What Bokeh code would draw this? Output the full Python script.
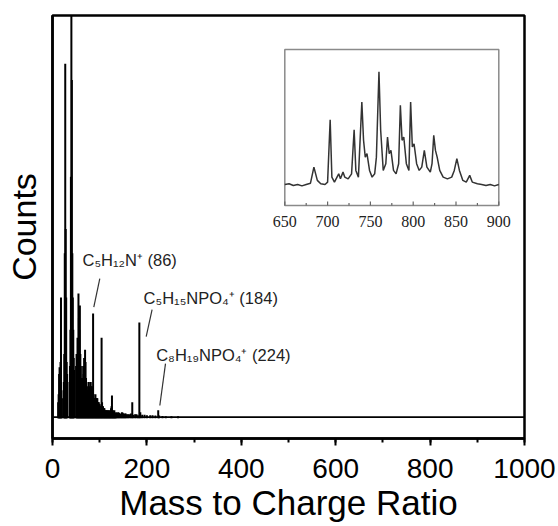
from bokeh.plotting import figure
from bokeh.models import Range1d, FixedTicker, SingleIntervalTicker, ColumnDataSource
from bokeh.core.properties import value
from bokeh.embed import file_html
from bokeh.resources import INLINE

# ---------------- data: main spectrum ----------------
mz = ([12, 13, 14, 15, 16, 17, 18, 19, 20] +
      [24, 25, 26, 27, 28, 29, 30, 31] +
      [36, 37, 38, 39, 40, 41, 42, 43, 44, 45, 46] +
      [50, 51, 52, 53, 54, 55, 56, 57, 58, 59, 60, 61] +
      [62, 63, 64, 65, 66, 67, 68, 69, 70, 71, 72, 73] +
      [74, 75, 76, 77, 78, 79, 80, 81, 82, 83, 84, 85, 86, 87, 88] +
      [89, 90, 91, 92, 93, 94, 95, 96, 97, 98, 99, 100, 101] +
      [102, 103, 104, 105, 106, 107, 108, 109, 110, 111, 112, 113, 114] +
      [115, 116, 117, 118, 119, 120, 121, 122, 123, 124, 125, 126, 127, 128, 129, 130, 131, 132, 133, 134, 135] +
      [137, 139, 141, 143, 145, 147, 149, 151, 153, 155, 157, 160, 163, 166, 169, 171, 175, 178, 181, 184,
       186, 190, 195, 200, 207, 212, 218, 224, 226, 233, 240, 252, 266])
counts = ([4, 6, 11, 12.7, 9, 14, 30, 7, 5] +
          [9, 16, 41, 88, 47, 30, 14, 11] +
          [9, 13, 22, 60, 120, 84, 41, 30, 22, 15, 12] +
          [13, 16, 13, 20, 18, 31, 25, 22, 28, 16, 13, 10] +
          [9, 10, 9, 13, 11, 15, 12, 17, 14, 10, 9, 8] +
          [7, 7, 6, 9, 7, 8, 7, 9, 8, 7, 8, 6, 26, 6, 5] +
          [5, 5, 6, 5, 5, 5, 5, 4, 4, 4, 3.5, 3.5, 3] +
          [3, 3, 20, 4, 3, 3, 2.5, 2.5, 2.5, 2, 2, 1.8, 2] +
          [2, 1.8, 2, 1.6, 2, 1.6, 2, 1.5, 1.8, 2.5, 3, 5.7, 1.6, 2, 1.5, 1.4, 2, 1.3, 1.4, 1.2, 1.5] +
          [1.3, 1.5, 1.4, 1.1, 1.2, 1.5, 1.4, 1.1, 1.2, 1.2, 1.0, 1.0, 1.0, 1.2, 4.0, 0.9, 1.0, 1.0, 0.8, 23.8,
           1.5, 0.9, 0.9, 0.8, 0.8, 0.8, 0.7, 2.0, 0.7, 0.6, 0.5, 0.5, 0.5])
baseline_mz = [0, 1000]
baseline_counts = [0.3, 0.3]
x_ticks_major = 200
x_title = "Mass to Charge Ratio"
y_title = "Counts"

# ---------------- data: inset ----------------
inset_mz = [650, 655, 660, 665, 670, 675, 680, 684, 688, 692, 697, 700, 703, 705, 708, 711, 713, 715,
            718, 720, 724, 728, 731, 733, 736, 740, 742, 744, 746, 749, 752, 755, 757, 760, 762, 765,
            768, 770, 772, 774, 777, 780, 783, 785, 787, 789, 792, 795, 797, 799, 801, 804, 807, 810,
            813, 816, 820, 822, 824, 826, 828, 831, 835, 840, 845, 848, 851, 854, 858, 862, 866, 869,
            875, 880, 885, 890, 895, 900]
inset_counts = [13.5, 13.9, 12.8, 13.5, 12.6, 13.5, 14.3, 24.6, 16.1, 13.9, 13.5, 15.0, 55.0, 18.2, 15.0, 18.2, 20.3, 17.1,
                21.4, 18.2, 17.1, 20.3, 48.6, 22.5, 18.2, 66.4, 41.8, 31.0, 33.2, 22.5, 18.2, 20.3, 31.0, 85.7, 48.2, 22.5,
                26.8, 43.9, 33.2, 35.3, 22.5, 20.3, 26.8, 64.2, 41.8, 43.9, 26.8, 22.5, 66.4, 37.5, 39.6, 26.8, 22.5, 24.6,
                35.3, 24.6, 21.4, 26.8, 45.0, 35.3, 31.0, 22.5, 18.2, 17.1, 18.2, 22.5, 30.0, 22.5, 16.1, 15.0, 19.3, 15.0,
                13.9, 13.5, 12.8, 13.5, 12.6, 13.5]
inset_ticks = [650, 700, 750, 800, 850, 900]
inset_minor_ticks = [675, 725, 775, 825, 875]
inset_tick_labels = ["650", "700", "750", "800", "850", "900"]

# ---------------- annotations ----------------
ann_text = ["C₅H₁₂N⁺ (86)", "C₅H₁₅NPO₄⁺  (184)", "C₈H₁₉NPO₄⁺ (224)"]
ann_x = [63.6, 193.0, 219.7]
ann_y = [39.2, 30.0, 15.8]
lead_x0 = [100.2, 211.0, 239.4]
lead_y0 = [34.7, 27.0, 13.6]
lead_x1 = [87.5, 198.5, 227.4]
lead_y1 = [27.6, 20.3, 3.2]

assert len(mz) == len(counts)
assert len(inset_mz) == len(inset_counts)

# ---------------- layout constants (pixels inside the figure) ----------------
W, H = 558, 526
BL, BR, BT, BB = 52, 34, 15, 88
FX0, FX1 = BL, W - BR
FY0, FY1 = BT, H - BB          # top, bottom
IX0, IX1 = 284.3, 498.3        # inset box left/right
IY0, IY1 = 49.0, 205.0         # inset box top/bottom

X0, X1 = 0, 1000
Y0, Y1 = -5, 100

sx = (inset_ticks[-1] - inset_ticks[0]) / (IX1 - IX0)
ix_start = inset_ticks[0] - (IX0 - FX0) * sx
ix_end = inset_ticks[-1] + (FX1 - IX1) * sx
sy = 100.0 / (IY1 - IY0)
iy_start = 0 - (FY1 - IY1) * sy
iy_end = 100 + (IY0 - FY0) * sy

p = figure(width=W, height=H, x_range=Range1d(X0, X1), y_range=Range1d(Y0, Y1),
           output_backend="svg", toolbar_location=None,
           min_border_left=BL, min_border_right=BR, min_border_top=BT, min_border_bottom=BB)
p.extra_x_ranges = {"inset": Range1d(ix_start, ix_end)}
p.extra_y_ranges = {"inset": Range1d(iy_start, iy_end)}

p.xgrid.visible = False
p.ygrid.visible = False
p.outline_line_color = "black"
p.outline_line_width = 2.5
p.outline_line_alpha = 1.0
p.background_fill_color = "white"
p.border_fill_color = "white"

FONT = "Liberation Sans"
xa = p.xaxis[0]
xa.ticker = SingleIntervalTicker(interval=x_ticks_major, num_minor_ticks=2)
xa.axis_line_width = 2.5
xa.major_tick_line_width = 2
xa.minor_tick_line_width = 2
xa.major_tick_out = 7
xa.major_tick_in = 0
xa.minor_tick_out = 4
xa.minor_tick_in = 0
xa.major_label_text_font = FONT
xa.major_label_text_font_size = "28px"
xa.major_label_text_color = "black"
xa.major_label_text_line_height = 1.0
xa.major_label_standoff = 13
xa.axis_label = x_title
xa.axis_label_text_font = FONT
xa.axis_label_text_font_size = "35px"
xa.axis_label_text_font_style = "normal"
xa.axis_label_text_color = "black"
xa.axis_label_text_line_height = 1.0
xa.axis_label_standoff = 2

ya = p.yaxis[0]
ya.ticker = FixedTicker(ticks=[])
ya.axis_line_width = 2.5
ya.major_tick_line_color = None
ya.minor_tick_line_color = None
ya.major_label_text_font_size = "0px"
ya.axis_label = y_title
ya.axis_label_text_font = FONT
ya.axis_label_text_font_size = "34px"
ya.axis_label_text_font_style = "normal"
ya.axis_label_text_color = "black"
ya.axis_label_standoff = 10

# main spectrum
src = ColumnDataSource(dict(mz=mz, counts=counts, zero=[0] * len(mz)))
p.segment(x0="mz", y0="zero", x1="mz", y1="counts", source=src, line_color="black", line_width=2.0)
p.line(baseline_mz, baseline_counts, line_color="black", line_width=1.6)

# annotations
p.text(x=ann_x, y=ann_y, text=ann_text, text_font=value(FONT), text_font_size="16.5px",
       text_color="#222222", text_baseline="middle", text_align="left")
p.segment(x0=lead_x0, y0=lead_y0, x1=lead_x1, y1=lead_y1, line_color="#333333", line_width=1.2)

# inset
p.quad(left=[inset_ticks[0]], right=[inset_ticks[-1]], bottom=[0], top=[100],
       fill_color="white", line_color="#8a8a8a", line_width=1.5,
       x_range_name="inset", y_range_name="inset")
p.line(inset_mz, inset_counts, line_color="#333333", line_width=1.5,
       x_range_name="inset", y_range_name="inset")
tick_len_major = 4 * sy
tick_len_minor = 2.5 * sy
p.segment(x0=inset_ticks, y0=[0] * len(inset_ticks), x1=inset_ticks, y1=[tick_len_major] * len(inset_ticks),
          line_color="#666666", line_width=1.2, x_range_name="inset", y_range_name="inset")
p.segment(x0=inset_minor_ticks, y0=[0] * len(inset_minor_ticks), x1=inset_minor_ticks,
          y1=[tick_len_minor] * len(inset_minor_ticks),
          line_color="#666666", line_width=1.2, x_range_name="inset", y_range_name="inset")
p.text(x=inset_ticks, y=[-16 * sy] * len(inset_ticks), text=inset_tick_labels,
       text_font=value("Liberation Serif"), text_font_size="16px", text_color="#222222",
       text_align="center", text_baseline="middle", x_range_name="inset", y_range_name="inset")

open("out.html", "w").write(file_html(p, INLINE))
